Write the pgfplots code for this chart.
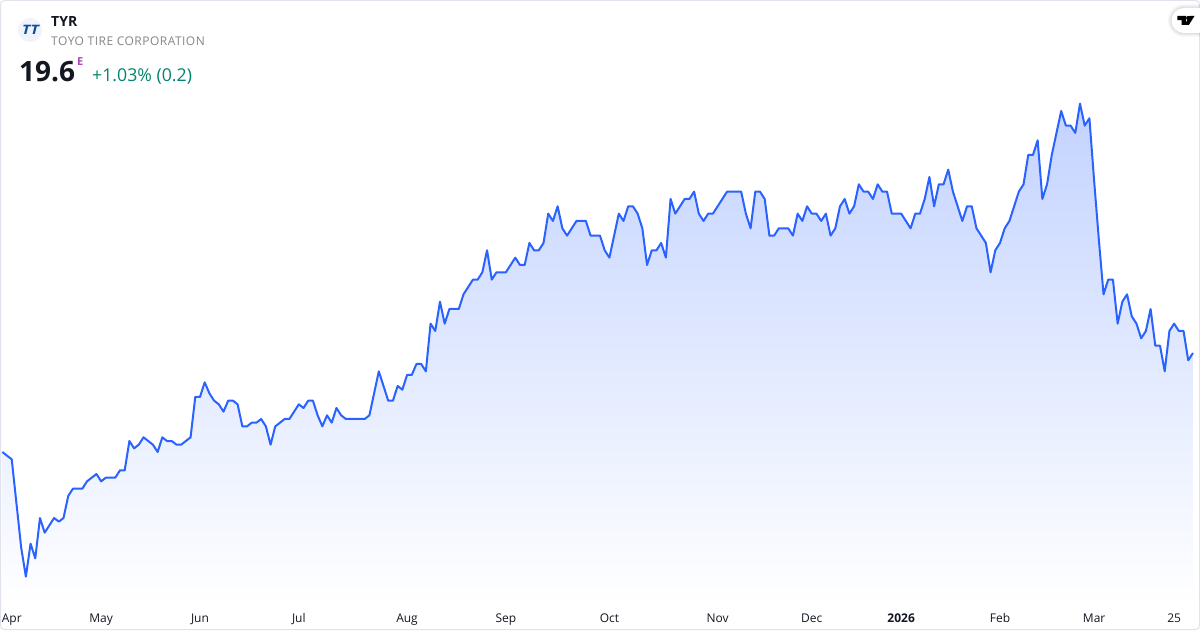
\documentclass[border=0pt]{standalone}
\usepackage{pgfplots}
\pgfplotsset{compat=1.18}
\usepackage{pgfplotstable}
\usepackage{fontspec}
\setmainfont{Open Sans}
\definecolor{tvblue}{HTML}{2962FF}
\definecolor{topfill}{HTML}{C3D3FF}
\definecolor{ticktxt}{HTML}{131722}
\definecolor{grayname}{HTML}{868686}
\definecolor{upgreen}{HTML}{00846E}
\definecolor{epurple}{HTML}{AB47BC}
\definecolor{cardline}{HTML}{E0E3EB}
\definecolor{logobg}{HTML}{F0F3FA}
\definecolor{logotxt}{HTML}{0B4EA2}
\pgfplotstableread{
i p
0 16.9
1 16.8
2 16.7
3 15.5
4 14.3
5 13.5
6 14.4
7 14.0
8 15.1
9 14.7
10 14.9
11 15.1
12 15.0
13 15.1
14 15.7
15 15.9
16 15.9
17 15.9
18 16.1
19 16.2
20 16.3
21 16.1
22 16.2
23 16.2
24 16.2
25 16.4
26 16.4
27 17.2
28 17.0
29 17.1
30 17.3
31 17.2
32 17.1
33 16.9
34 17.3
35 17.2
36 17.2
37 17.1
38 17.1
39 17.2
40 17.3
41 18.4
42 18.4
43 18.8
44 18.5
45 18.3
46 18.2
47 18.0
48 18.3
49 18.3
50 18.2
51 17.6
52 17.6
53 17.7
54 17.7
55 17.8
56 17.6
57 17.1
58 17.6
59 17.7
60 17.8
61 17.8
62 18.0
63 18.2
64 18.1
65 18.3
66 18.3
67 17.9
68 17.6
69 17.9
70 17.7
71 18.1
72 17.9
73 17.8
74 17.8
75 17.8
76 17.8
77 17.8
78 17.9
79 18.5
80 19.1
81 18.7
82 18.3
83 18.3
84 18.7
85 18.6
86 19.0
87 19.0
88 19.3
89 19.3
90 19.1
91 20.4
92 20.2
93 21.0
94 20.4
95 20.8
96 20.8
97 20.8
98 21.2
99 21.4
100 21.6
101 21.6
102 21.8
103 22.4
104 21.6
105 21.8
106 21.8
107 21.8
108 22.0
109 22.2
110 22.0
111 22.0
112 22.6
113 22.4
114 22.4
115 22.6
116 23.4
117 23.2
118 23.6
119 23.0
120 22.8
121 23.0
122 23.2
123 23.2
124 23.2
125 22.8
126 22.8
127 22.8
128 22.4
129 22.2
130 22.8
131 23.4
132 23.2
133 23.6
134 23.6
135 23.4
136 23.0
137 22.0
138 22.4
139 22.4
140 22.6
141 22.2
142 23.8
143 23.4
144 23.6
145 23.8
146 23.8
147 24.0
148 23.4
149 23.2
150 23.4
151 23.4
152 23.6
153 23.8
154 24.0
155 24.0
156 24.0
157 24.0
158 23.4
159 23.0
160 24.0
161 24.0
162 23.8
163 22.8
164 22.8
165 23.0
166 23.0
167 23.0
168 22.8
169 23.4
170 23.2
171 23.6
172 23.4
173 23.4
174 23.2
175 23.4
176 22.8
177 23.0
178 23.6
179 23.8
180 23.4
181 23.6
182 24.2
183 24.0
184 24.0
185 23.8
186 24.2
187 24.0
188 24.0
189 23.4
190 23.4
191 23.4
192 23.2
193 23.0
194 23.4
195 23.4
196 23.8
197 24.4
198 23.6
199 24.2
200 24.2
201 24.6
202 24.0
203 23.6
204 23.2
205 23.6
206 23.6
207 23.0
208 22.8
209 22.6
210 21.8
211 22.4
212 22.6
213 23.0
214 23.2
215 23.6
216 24.0
217 24.2
218 25.0
219 25.0
220 25.4
221 23.8
222 24.2
223 25.0
224 25.6
225 26.2
226 25.8
227 25.8
228 25.6
229 26.4
230 25.8
231 26.0
232 24.3
233 22.7
234 21.2
235 21.6
236 21.6
237 20.4
238 21.0
239 21.2
240 20.6
241 20.4
242 20.0
243 20.2
244 20.8
245 19.8
246 19.8
247 19.1
248 20.2
249 20.4
250 20.2
251 20.2
252 19.4
253 19.6
}\pricetable
\begin{document}
\begin{tikzpicture}
\path[use as bounding box] (0,0) rectangle (1200pt,630pt);
\fill[white] (0,0) rectangle (1200pt,630pt);
\begin{axis}[
  at={(0pt,0pt)}, anchor=south west,
  width=1200pt, height=630pt, scale only axis,
  xmin=-0.495, xmax=254.5,
  ymin=12.046, ymax=29.226,
  axis line style={draw=none},
  tick style={draw=none},
  ytick=\empty,
  xtick={2,21,42,63,86,107,129,152,172,191,212,232,249},
  xticklabels={Apr,May,Jun,Jul,Aug,Sep,Oct,Nov,Dec,{\bfseries 2026},Feb,Mar,25},
  xticklabel style={font=\fontsize{12}{14}\selectfont, text=ticktxt, anchor=base, yshift=8pt},
  clip=false,
]
\addplot[draw=none, top color=topfill, bottom color=white, forget plot]
  table[x=i,y=p]{\pricetable} -- (axis cs:253,12.75) -- (axis cs:0,12.75) -- cycle;
\addplot[color=tvblue, line width=2pt, line join=round, no markers]
  table[x=i,y=p]{\pricetable};
\end{axis}
\begin{scope}[x=1pt,y=-1pt,shift={(0pt,630pt)}]
  \draw[cardline, line width=1pt, rounded corners=4pt] (0.5,0.5) rectangle (1199.5,629.5);
  % logo
  \fill[logobg] (30,30) circle (12);
  \node[anchor=base, inner sep=0, text=logotxt, xscale=1.2, font=\fontsize{13}{14}\selectfont\bfseries\itshape] at (30.5,34.5) {TT};
  % texts
  \node[anchor=base west, inner sep=0, text=ticktxt, font=\fontsize{14}{15}\selectfont\bfseries] at (51,26.5) {TYR};
  \node[anchor=base west, inner sep=0, text=grayname, font=\fontsize{12}{14}\selectfont\addfontfeatures{LetterSpace=4}] at (51,46) {TOYO TIRE CORPORATION};
  \node[anchor=base west, inner sep=0, text=ticktxt, font=\fontsize{28}{30}\selectfont\bfseries] at (19,82) {19.6};
  \node[anchor=base west, inner sep=0, text=epurple, font=\fontsize{11}{12}\selectfont\bfseries] at (77,66) {E};
  \node[anchor=base west, inner sep=0, text=upgreen, font=\fontsize{17.7}{20}\selectfont] at (92,81.5) {+1.03\% (0.2)};
  % watermark
  \foreach \e/\o in {4/0.02,3/0.03,2/0.03,1/0.04}{
    \fill[black, opacity=\o] (1200,8-\e) -- (1184,8-\e) arc[start angle=-90,end angle=-270,radius=12.5+\e] -- (1200,33+\e) -- cycle;
  }
  \fill[white] (1200,8) -- (1184,8) arc[start angle=-90,end angle=-270,radius=12.5] -- (1200,33) -- cycle;
  \fill[black] (1177.3,15.8) -- (1186,15.8) -- (1186,25) -- (1181.6,25) -- (1181.6,20.2) -- (1177.3,20.2) -- cycle;
  \fill[black] (1188.2,18) circle (2.1);
  \fill[black] (1189.6,15.8) -- (1194.6,15.8) -- (1188.8,25) -- (1184.6,25) -- cycle;
\end{scope}
\end{tikzpicture}
\end{document}
